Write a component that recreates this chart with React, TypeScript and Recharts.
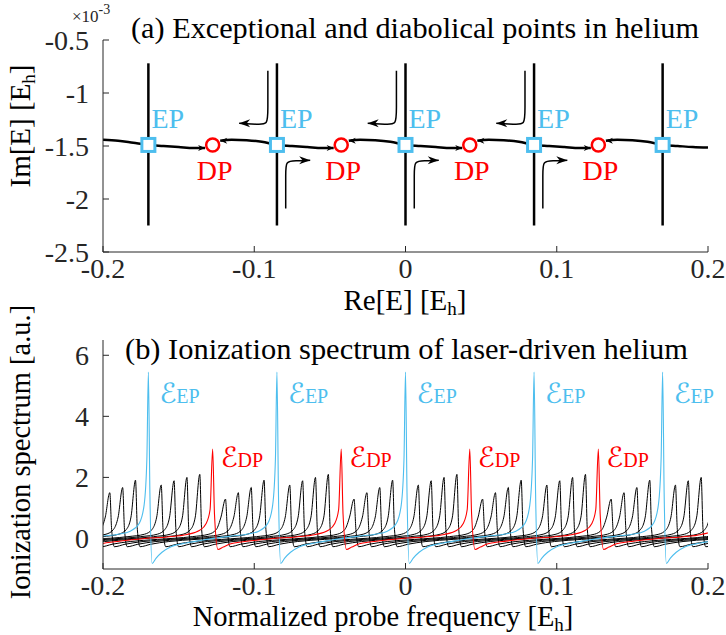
import React from "react";
import { ComposedChart, Line, Scatter, XAxis, YAxis, ReferenceDot } from "recharts";

const SERIF = "'Liberation Serif', 'Times New Roman', serif";
const SCRIPT = "'Liberation Serif', 'DejaVu Serif', 'DejaVu Sans', serif";
const EP_BLUE = "#4DBEEE";
const DP_RED = "#FF0000";
const AXIS = "#262626";

type Pt = [number, number | null];

// ---- panel (a): complex energy plane (Im in units of 1e-3) ----
const RE_TICKS = [-0.2, -0.1, 0, 0.1, 0.2];
const IM_TICKS = [-2.5, -2, -1.5, -1, -0.5];
const EP_RE = [-0.17, -0.085, 0, 0.085, 0.17];
const DP_RE = [-0.1275, -0.0425, 0.0425, 0.1275];
const EP_IM = -1.49;
const DP_IM = -1.49;
const BRANCH_IM = [-0.72, -2.25];

const MAIN_CURVE: Pt[] = [
  [-0.2, -1.44], [-0.19, -1.45], [-0.18, -1.47], [-0.17, -1.49], [-0.16, -1.5], [-0.15, -1.51], [-0.14, -1.52], [-0.1325, -1.52],
  [-0.1275, null],
  [-0.1225, -1.45], [-0.115, -1.44], [-0.105, -1.445], [-0.095, -1.46], [-0.085, -1.49], [-0.075, -1.5], [-0.065, -1.51], [-0.055, -1.52], [-0.0475, -1.52],
  [-0.0425, null],
  [-0.0375, -1.45], [-0.03, -1.44], [-0.02, -1.445], [-0.01, -1.46], [0, -1.49], [0.01, -1.5], [0.02, -1.51], [0.03, -1.52], [0.0375, -1.52],
  [0.0425, null],
  [0.0475, -1.45], [0.055, -1.44], [0.065, -1.445], [0.075, -1.46], [0.085, -1.49], [0.095, -1.5], [0.105, -1.51], [0.115, -1.52], [0.1225, -1.52],
  [0.1275, null],
  [0.1325, -1.45], [0.14, -1.44], [0.15, -1.445], [0.16, -1.46], [0.17, -1.49], [0.18, -1.5], [0.19, -1.51], [0.2, -1.515],
];

// flow arrows next to the inner EPs (last point = arrow tip)
const UPPER_ARROWS: Pt[][] = [
  [[-0.091, -0.79], [-0.091, -1.18], [-0.091, -1.3], [-0.098, -1.295], [-0.11, -1.285]],
  [[-0.006, -0.79], [-0.006, -1.18], [-0.006, -1.3], [-0.013, -1.295], [-0.025, -1.285]],
  [[0.079, -0.79], [0.079, -1.18], [0.079, -1.3], [0.072, -1.295], [0.06, -1.285]],
];
const LOWER_ARROWS: Pt[][] = [
  [[-0.0792, -2.09], [-0.0792, -1.74], [-0.0792, -1.645], [-0.073, -1.64], [-0.063, -1.635]],
  [[0.0058, -2.09], [0.0058, -1.74], [0.0058, -1.645], [0.012, -1.64], [0.022, -1.635]],
  [[0.0908, -2.09], [0.0908, -1.74], [0.0908, -1.645], [0.097, -1.64], [0.107, -1.635]],
];
const CURVE_HEADS_RIGHT: Pt[] = [[-0.1325, -1.52], [-0.0475, -1.52], [0.0375, -1.52], [0.1225, -1.52]];
const CURVE_HEADS_LEFT: Pt[] = [[-0.1225, -1.45], [-0.0375, -1.45], [0.0475, -1.45], [0.1325, -1.45]];

// ---- panel (b): ionization spectra ----
const SPEC_TICKS = [0, 2, 4, 6];
const EP_PEAK = 5.45;
const DP_PEAK = 2.93;

const EP_SPECTRUM: Pt[] = [
  [-0.215, -0.02], [-0.2, 0.08], [-0.19, 0.14], [-0.182, 0.24], [-0.176, 0.5], [-0.1728, 1.1], [-0.171, 2.6], [-0.17, 5.45], [-0.169, 1.5], [-0.1675, -0.82], [-0.165, -0.65], [-0.161, -0.45], [-0.155, -0.27], [-0.145, -0.15],
  [-0.13, -0.02], [-0.115, 0.08], [-0.105, 0.14], [-0.097, 0.24], [-0.091, 0.5], [-0.0878, 1.1], [-0.086, 2.6], [-0.085, 5.45], [-0.084, 1.5], [-0.0825, -0.82], [-0.08, -0.65], [-0.076, -0.45], [-0.07, -0.27], [-0.06, -0.15],
  [-0.045, -0.02], [-0.03, 0.08], [-0.02, 0.14], [-0.012, 0.24], [-0.006, 0.5], [-0.0028, 1.1], [-0.001, 2.6], [0, 5.45], [0.001, 1.5], [0.0025, -0.82], [0.005, -0.65], [0.009, -0.45], [0.015, -0.27], [0.025, -0.15],
  [0.04, -0.02], [0.055, 0.08], [0.065, 0.14], [0.073, 0.24], [0.079, 0.5], [0.0822, 1.1], [0.084, 2.6], [0.085, 5.45], [0.086, 1.5], [0.0875, -0.82], [0.09, -0.65], [0.094, -0.45], [0.1, -0.27], [0.11, -0.15],
  [0.125, -0.02], [0.14, 0.08], [0.15, 0.14], [0.158, 0.24], [0.164, 0.5], [0.1672, 1.1], [0.169, 2.6], [0.17, 5.45], [0.171, 1.5], [0.1725, -0.82], [0.175, -0.65], [0.179, -0.45], [0.185, -0.27], [0.195, -0.15], [0.21, -0.02],
];

const DP_SPECTRUM: Pt[] = [
  [-0.2055, -0.28], [-0.2005, -0.17], [-0.1925, -0.11], [-0.1825, -0.05],
  [-0.1725, 0], [-0.1575, 0.05], [-0.1445, 0.13], [-0.136, 0.27], [-0.1319, 0.48], [-0.1292, 0.95], [-0.1275, 2.93], [-0.1263, 0.8], [-0.124, -0.36], [-0.1205, -0.28], [-0.1155, -0.17], [-0.1075, -0.11], [-0.0975, -0.05],
  [-0.0875, 0], [-0.0725, 0.05], [-0.0595, 0.13], [-0.051, 0.27], [-0.0469, 0.48], [-0.0442, 0.95], [-0.0425, 2.93], [-0.0413, 0.8], [-0.039, -0.36], [-0.0355, -0.28], [-0.0305, -0.17], [-0.0225, -0.11], [-0.0125, -0.05],
  [-0.0025, 0], [0.0125, 0.05], [0.0255, 0.13], [0.034, 0.27], [0.0381, 0.48], [0.0408, 0.95], [0.0425, 2.93], [0.0437, 0.8], [0.046, -0.36], [0.0495, -0.28], [0.0545, -0.17], [0.0625, -0.11], [0.0725, -0.05],
  [0.0825, 0], [0.0975, 0.05], [0.1105, 0.13], [0.119, 0.27], [0.1231, 0.48], [0.1258, 0.95], [0.1275, 2.93], [0.1287, 0.8], [0.131, -0.36], [0.1345, -0.28], [0.1395, -0.17], [0.1475, -0.11], [0.1575, -0.05],
  [0.1675, 0], [0.1825, 0.05], [0.1955, 0.13], [0.204, 0.27], [0.2081, 0.48],
];

const BLACK_1: Pt[] = [
  [-0.2245, -0.1], [-0.2065, -0.03], [-0.1835, 0.06], [-0.1725, 0.14], [-0.1675, 0.3], [-0.1645, 0.7], [-0.1615, 1.75], [-0.1603, 0.3], [-0.1585, -0.27], [-0.1515, -0.19], [-0.1395, -0.1],
  [-0.1215, -0.03], [-0.0985, 0.06], [-0.0875, 0.14], [-0.0825, 0.3], [-0.0795, 0.7], [-0.0765, 1.75], [-0.0753, 0.3], [-0.0735, -0.27], [-0.0665, -0.19], [-0.0545, -0.1],
  [-0.0365, -0.03], [-0.0135, 0.06], [-0.0025, 0.14], [0.0025, 0.3], [0.0055, 0.7], [0.0085, 1.75], [0.0097, 0.3], [0.0115, -0.27], [0.0185, -0.19], [0.0305, -0.1],
  [0.0485, -0.03], [0.0715, 0.06], [0.0825, 0.14], [0.0875, 0.3], [0.0905, 0.7], [0.0935, 1.75], [0.0947, 0.3], [0.0965, -0.27], [0.1035, -0.19], [0.1155, -0.1],
  [0.1335, -0.03], [0.1565, 0.06], [0.1675, 0.14], [0.1725, 0.3], [0.1755, 0.7], [0.1785, 1.75], [0.1797, 0.3], [0.1815, -0.27], [0.1885, -0.19], [0.2005, -0.1],
];
const BLACK_2: Pt[] = [
  [-0.235, -0.27], [-0.228, -0.19], [-0.216, -0.1], [-0.198, -0.03], [-0.175, 0.06], [-0.164, 0.14], [-0.159, 0.3], [-0.156, 0.7], [-0.153, 1.89], [-0.1518, 0.3], [-0.15, -0.27], [-0.143, -0.19], [-0.131, -0.1],
  [-0.113, -0.03], [-0.09, 0.06], [-0.079, 0.14], [-0.074, 0.3], [-0.071, 0.7], [-0.068, 1.89], [-0.0668, 0.3], [-0.065, -0.27], [-0.058, -0.19], [-0.046, -0.1],
  [-0.028, -0.03], [-0.005, 0.06], [0.006, 0.14], [0.011, 0.3], [0.014, 0.7], [0.017, 1.89], [0.0182, 0.3], [0.02, -0.27], [0.027, -0.19], [0.039, -0.1],
  [0.057, -0.03], [0.08, 0.06], [0.091, 0.14], [0.096, 0.3], [0.099, 0.7], [0.102, 1.89], [0.1032, 0.3], [0.105, -0.27], [0.112, -0.19], [0.124, -0.1],
  [0.142, -0.03], [0.165, 0.06], [0.176, 0.14], [0.181, 0.3], [0.184, 0.7], [0.187, 1.89], [0.1882, 0.3], [0.19, -0.27], [0.197, -0.19], [0.209, -0.1],
];
const BLACK_3: Pt[] = [
  [-0.2265, -0.27], [-0.2195, -0.19], [-0.2075, -0.1], [-0.1895, -0.03], [-0.1665, 0.06], [-0.1555, 0.14], [-0.1505, 0.3], [-0.1475, 0.7], [-0.1445, 2.0], [-0.1433, 0.3], [-0.1415, -0.27], [-0.1345, -0.19], [-0.1225, -0.1],
  [-0.1045, -0.03], [-0.0815, 0.06], [-0.0705, 0.14], [-0.0655, 0.3], [-0.0625, 0.7], [-0.0595, 2.0], [-0.0583, 0.3], [-0.0565, -0.27], [-0.0495, -0.19], [-0.0375, -0.1],
  [-0.0195, -0.03], [0.0035, 0.06], [0.0145, 0.14], [0.0195, 0.3], [0.0225, 0.7], [0.0255, 2.0], [0.0267, 0.3], [0.0285, -0.27], [0.0355, -0.19], [0.0475, -0.1],
  [0.0655, -0.03], [0.0885, 0.06], [0.0995, 0.14], [0.1045, 0.3], [0.1075, 0.7], [0.1105, 2.0], [0.1117, 0.3], [0.1135, -0.27], [0.1205, -0.19], [0.1325, -0.1],
  [0.1505, -0.03], [0.1735, 0.06], [0.1845, 0.14], [0.1895, 0.3], [0.1925, 0.7], [0.1955, 2.0], [0.1967, 0.3], [0.1985, -0.27], [0.2055, -0.19],
];
const BLACK_4: Pt[] = [
  [-0.2198, 0.3], [-0.218, -0.27], [-0.211, -0.19], [-0.199, -0.1], [-0.181, -0.03], [-0.158, 0.06], [-0.147, 0.14], [-0.142, 0.3], [-0.139, 0.7], [-0.136, 2.1], [-0.1348, 0.3], [-0.133, -0.27], [-0.126, -0.19], [-0.114, -0.1],
  [-0.096, -0.03], [-0.073, 0.06], [-0.062, 0.14], [-0.057, 0.3], [-0.054, 0.7], [-0.051, 2.1], [-0.0498, 0.3], [-0.048, -0.27], [-0.041, -0.19], [-0.029, -0.1],
  [-0.011, -0.03], [0.012, 0.06], [0.023, 0.14], [0.028, 0.3], [0.031, 0.7], [0.034, 2.1], [0.0352, 0.3], [0.037, -0.27], [0.044, -0.19], [0.056, -0.1],
  [0.074, -0.03], [0.097, 0.06], [0.108, 0.14], [0.113, 0.3], [0.116, 0.7], [0.119, 2.1], [0.1202, 0.3], [0.122, -0.27], [0.129, -0.19], [0.141, -0.1],
  [0.159, -0.03], [0.182, 0.06], [0.193, 0.14], [0.198, 0.3], [0.201, 0.7], [0.204, 2.1],
];
const BLACK_6: Pt[] = [
  [-0.215, 0.14], [-0.21, 0.3], [-0.207, 0.7], [-0.204, 1.29], [-0.2028, 0.3], [-0.201, -0.27], [-0.194, -0.19], [-0.182, -0.1],
  [-0.164, -0.03], [-0.141, 0.06], [-0.13, 0.14], [-0.125, 0.3], [-0.122, 0.7], [-0.119, 1.29], [-0.1178, 0.3], [-0.116, -0.27], [-0.109, -0.19], [-0.097, -0.1],
  [-0.079, -0.03], [-0.056, 0.06], [-0.045, 0.14], [-0.04, 0.3], [-0.037, 0.7], [-0.034, 1.29], [-0.0328, 0.3], [-0.031, -0.27], [-0.024, -0.19], [-0.012, -0.1],
  [0.006, -0.03], [0.029, 0.06], [0.04, 0.14], [0.045, 0.3], [0.048, 0.7], [0.051, 1.29], [0.0522, 0.3], [0.054, -0.27], [0.061, -0.19], [0.073, -0.1],
  [0.091, -0.03], [0.114, 0.06], [0.125, 0.14], [0.13, 0.3], [0.133, 0.7], [0.136, 1.29], [0.1372, 0.3], [0.139, -0.27], [0.146, -0.19], [0.158, -0.1],
  [0.176, -0.03], [0.199, 0.06], [0.21, 0.14],
];
const BLACK_7: Pt[] = [
  [-0.2175, 0.06], [-0.2065, 0.14], [-0.2015, 0.3], [-0.1985, 0.7], [-0.1955, 1.5], [-0.1943, 0.3], [-0.1925, -0.27], [-0.1855, -0.19], [-0.1735, -0.1],
  [-0.1555, -0.03], [-0.1325, 0.06], [-0.1215, 0.14], [-0.1165, 0.3], [-0.1135, 0.7], [-0.1105, 1.5], [-0.1093, 0.3], [-0.1075, -0.27], [-0.1005, -0.19], [-0.0885, -0.1],
  [-0.0705, -0.03], [-0.0475, 0.06], [-0.0365, 0.14], [-0.0315, 0.3], [-0.0285, 0.7], [-0.0255, 1.5], [-0.0243, 0.3], [-0.0225, -0.27], [-0.0155, -0.19], [-0.0035, -0.1],
  [0.0145, -0.03], [0.0375, 0.06], [0.0485, 0.14], [0.0535, 0.3], [0.0565, 0.7], [0.0595, 1.5], [0.0607, 0.3], [0.0625, -0.27], [0.0695, -0.19], [0.0815, -0.1],
  [0.0995, -0.03], [0.1225, 0.06], [0.1335, 0.14], [0.1385, 0.3], [0.1415, 0.7], [0.1445, 1.5], [0.1457, 0.3], [0.1475, -0.27], [0.1545, -0.19], [0.1665, -0.1],
  [0.1845, -0.03], [0.2075, 0.06],
];
const BLACK_8: Pt[] = [
  [-0.209, 0.06], [-0.198, 0.14], [-0.193, 0.3], [-0.19, 0.7], [-0.187, 1.67], [-0.1858, 0.3], [-0.184, -0.27], [-0.177, -0.19], [-0.165, -0.1],
  [-0.147, -0.03], [-0.124, 0.06], [-0.113, 0.14], [-0.108, 0.3], [-0.105, 0.7], [-0.102, 1.67], [-0.1008, 0.3], [-0.099, -0.27], [-0.092, -0.19], [-0.08, -0.1],
  [-0.062, -0.03], [-0.039, 0.06], [-0.028, 0.14], [-0.023, 0.3], [-0.02, 0.7], [-0.017, 1.67], [-0.0158, 0.3], [-0.014, -0.27], [-0.007, -0.19], [0.005, -0.1],
  [0.023, -0.03], [0.046, 0.06], [0.057, 0.14], [0.062, 0.3], [0.065, 0.7], [0.068, 1.67], [0.0692, 0.3], [0.071, -0.27], [0.078, -0.19], [0.09, -0.1],
  [0.108, -0.03], [0.131, 0.06], [0.142, 0.14], [0.147, 0.3], [0.15, 0.7], [0.153, 1.67], [0.1542, 0.3], [0.156, -0.27], [0.163, -0.19], [0.175, -0.1],
  [0.193, -0.03], [0.216, 0.06],
];
const BLACK_9: Pt[] = [
  [-0.2235, -0.03], [-0.2005, 0.06], [-0.1895, 0.14], [-0.1845, 0.3], [-0.1815, 0.7], [-0.1785, 1.91], [-0.1773, 0.3], [-0.1755, -0.27], [-0.1685, -0.19], [-0.1565, -0.1],
  [-0.1385, -0.03], [-0.1155, 0.06], [-0.1045, 0.14], [-0.0995, 0.3], [-0.0965, 0.7], [-0.0935, 1.91], [-0.0923, 0.3], [-0.0905, -0.27], [-0.0835, -0.19], [-0.0715, -0.1],
  [-0.0535, -0.03], [-0.0305, 0.06], [-0.0195, 0.14], [-0.0145, 0.3], [-0.0115, 0.7], [-0.0085, 1.91], [-0.0073, 0.3], [-0.0055, -0.27], [0.0015, -0.19], [0.0135, -0.1],
  [0.0315, -0.03], [0.0545, 0.06], [0.0655, 0.14], [0.0705, 0.3], [0.0735, 0.7], [0.0765, 1.91], [0.0777, 0.3], [0.0795, -0.27], [0.0865, -0.19], [0.0985, -0.1],
  [0.1165, -0.03], [0.1395, 0.06], [0.1505, 0.14], [0.1555, 0.3], [0.1585, 0.7], [0.1615, 1.91], [0.1627, 0.3], [0.1645, -0.27], [0.1715, -0.19], [0.1835, -0.1],
  [0.2015, -0.03],
];
const BLACK_SPECTRA = [BLACK_1, BLACK_2, BLACK_3, BLACK_4, BLACK_6, BLACK_7, BLACK_8, BLACK_9];

const toRows = (arr: Pt[]) => arr.map(([x, y]) => ({ x, y }));

const tickStyle = { fontSize: 28, fontFamily: SERIF, fill: AXIS };

const arrowHead = (dir: number, len: number, half: number) => (p: any) => {
  const { cx, cy } = p;
  const back = cx - dir * len;
  const notch = cx - dir * len * 0.7;
  return (
    <path
      d={`M${cx},${cy}L${back},${cy - half}L${notch},${cy}L${back},${cy + half}Z`}
      fill="#000"
    />
  );
};

const EpMark = (p: any) => (
  <g>
    <rect x={p.cx - 6.5} y={p.cy - 6.5} width={13} height={13} fill="#fff" stroke={EP_BLUE} strokeWidth={3} />
    <text x={p.cx + 3} y={p.cy - 17} fill={EP_BLUE} fontSize={28} fontFamily={SERIF}>
      EP
    </text>
  </g>
);

const DpMark = (p: any) => (
  <g>
    <circle cx={p.cx} cy={p.cy} r={6.5} fill="#fff" stroke={DP_RED} strokeWidth={2.5} />
    <text x={p.cx + 2} y={p.cy + 35} fill={DP_RED} fontSize={28} fontFamily={SERIF} textAnchor="middle">
      DP
    </text>
  </g>
);

const SpecLabel = (color: string, sub: string, dx: number, dy: number) => (p: any) => (
  <text x={p.cx + dx} y={p.cy + dy} fill={color} fontFamily={SERIF}>
    <tspan fontSize={28} fontFamily={SCRIPT}>{"\u2130"}</tspan>
    <tspan fontSize={20}>{sub}</tspan>
  </text>
);

function PanelA() {
  return (
    <ComposedChart width={726} height={320} margin={{ top: 40, right: 18, bottom: 0, left: 0 }}>
      <XAxis
        type="number"
        dataKey="x"
        domain={[-0.2, 0.2]}
        ticks={RE_TICKS}
        interval={0}
        allowDataOverflow
        height={68}
        tickSize={-6}
        tickMargin={12}
        tick={tickStyle}
        axisLine={{ stroke: AXIS }}
        tickLine={{ stroke: AXIS }}
      />
      <YAxis
        type="number"
        domain={[-2.5, -0.5]}
        ticks={IM_TICKS}
        interval={0}
        allowDataOverflow
        width={103}
        tickSize={-6}
        tickMargin={20}
        tick={tickStyle}
        axisLine={{ stroke: AXIS }}
        tickLine={{ stroke: AXIS }}
      />
      {EP_RE.map((e) => (
        <Line
          key={`branch${e}`}
          data={[{ x: e, y: BRANCH_IM[0] }, { x: e, y: BRANCH_IM[1] }]}
          dataKey="y"
          type="linear"
          stroke="#000"
          strokeWidth={2.5}
          dot={false}
          activeDot={false}
          isAnimationActive={false}
        />
      ))}
      <Line
        data={toRows(MAIN_CURVE)}
        dataKey="y"
        type="monotone"
        stroke="#000"
        strokeWidth={2.5}
        dot={false}
        activeDot={false}
        connectNulls={false}
        isAnimationActive={false}
      />
      {[...UPPER_ARROWS, ...LOWER_ARROWS].map((a, i) => (
        <Line
          key={`arrow${i}`}
          data={toRows(a)}
          dataKey="y"
          type="basis"
          stroke="#000"
          strokeWidth={1.5}
          dot={false}
          activeDot={false}
          isAnimationActive={false}
        />
      ))}
      <Scatter
        data={toRows(UPPER_ARROWS.map((a) => a[a.length - 1]))}
        dataKey="y"
        shape={arrowHead(-1, 11, 4)}
        isAnimationActive={false}
      />
      <Scatter
        data={toRows(LOWER_ARROWS.map((a) => a[a.length - 1]))}
        dataKey="y"
        shape={arrowHead(1, 11, 4)}
        isAnimationActive={false}
      />
      <Scatter data={toRows(CURVE_HEADS_RIGHT)} dataKey="y" shape={arrowHead(1, 7, 3)} isAnimationActive={false} />
      <Scatter data={toRows(CURVE_HEADS_LEFT)} dataKey="y" shape={arrowHead(-1, 7, 3)} isAnimationActive={false} />
      <Scatter data={EP_RE.map((x) => ({ x, y: EP_IM }))} dataKey="y" shape={EpMark} isAnimationActive={false} />
      <Scatter data={DP_RE.map((x) => ({ x, y: DP_IM }))} dataKey="y" shape={DpMark} isAnimationActive={false} />
    </ComposedChart>
  );
}

function PanelB() {
  return (
    <ComposedChart width={726} height={315} margin={{ top: 20, right: 18, bottom: 0, left: 0 }}>
      <XAxis
        type="number"
        dataKey="x"
        domain={[-0.2, 0.2]}
        ticks={RE_TICKS}
        interval={0}
        allowDataOverflow
        height={66}
        tickSize={-6}
        tickMargin={12}
        tick={tickStyle}
        axisLine={{ stroke: AXIS }}
        tickLine={{ stroke: AXIS }}
      />
      <YAxis
        type="number"
        domain={[-1, 6.5]}
        ticks={SPEC_TICKS}
        interval={0}
        allowDataOverflow
        width={103}
        tickSize={-6}
        tickMargin={20}
        tick={tickStyle}
        axisLine={{ stroke: AXIS }}
        tickLine={{ stroke: AXIS }}
      />
      {BLACK_SPECTRA.map((s, i) => (
        <Line
          key={`black${i}`}
          data={toRows(s)}
          dataKey="y"
          type="monotone"
          stroke="#000"
          strokeWidth={1}
          dot={false}
          activeDot={false}
          isAnimationActive={false}
        />
      ))}
      <Line
        data={toRows(EP_SPECTRUM)}
        dataKey="y"
        type="monotone"
        stroke={EP_BLUE}
        strokeWidth={1.1}
        dot={false}
        activeDot={false}
        isAnimationActive={false}
      />
      <Line
        data={toRows(DP_SPECTRUM)}
        dataKey="y"
        type="monotone"
        stroke={DP_RED}
        strokeWidth={1.1}
        dot={false}
        activeDot={false}
        isAnimationActive={false}
      />
      {EP_RE.map((x) => (
        <ReferenceDot key={`epl${x}`} x={x} y={EP_PEAK} ifOverflow="visible" shape={SpecLabel(EP_BLUE, "EP", 11, 31)} />
      ))}
      {DP_RE.map((x) => (
        <ReferenceDot key={`dpl${x}`} x={x} y={DP_PEAK} ifOverflow="visible" shape={SpecLabel(DP_RED, "DP", 8, 18)} />
      ))}
    </ComposedChart>
  );
}

export default function App() {
  return (
    <div style={{ position: "absolute", left: 0, top: 0, width: 726, height: 635, background: "#fff" }}>
      <div style={{ position: "absolute", left: 0, top: 0 }}>
        <PanelA />
      </div>
      <div style={{ position: "absolute", left: 0, top: 320 }}>
        <PanelB />
      </div>
      <svg
        width={726}
        height={635}
        style={{ position: "absolute", left: 0, top: 0, pointerEvents: "none" }}
        fontFamily={SERIF}
        fill="#000"
      >
        <text x={131} y={38} fontSize={30} textLength={568} lengthAdjust="spacingAndGlyphs">
          (a) Exceptional and diabolical points in helium
        </text>
        <text x={72} y={22} fontSize={17} fill={AXIS}>
          ×10<tspan dy={-8.5} fontSize={14}>-3</tspan>
        </text>
        <text x={30} y={126} fontSize={29} textAnchor="middle" transform="rotate(-90 30 126)">
          Im[E] [E<tspan fontSize={19} dy={5}>h</tspan><tspan dy={-5}>]</tspan>
        </text>
        <text x={405} y={310} fontSize={29} textAnchor="middle">
          Re[E] [E<tspan fontSize={19} dy={5}>h</tspan><tspan dy={-5}>]</tspan>
        </text>
        <text x={125} y={359} fontSize={30} textLength={563} lengthAdjust="spacingAndGlyphs">
          (b) Ionization spectrum of laser-driven helium
        </text>
        <text x={30} y={452} fontSize={28.5} textAnchor="middle" transform="rotate(-90 30 452)">
          Ionization spectrum [a.u.]
        </text>
        <text x={383} y={626} fontSize={28.5} textAnchor="middle">
          Normalized probe frequency [E<tspan fontSize={19} dy={5}>h</tspan><tspan dy={-5}>]</tspan>
        </text>
      </svg>
    </div>
  );
}
